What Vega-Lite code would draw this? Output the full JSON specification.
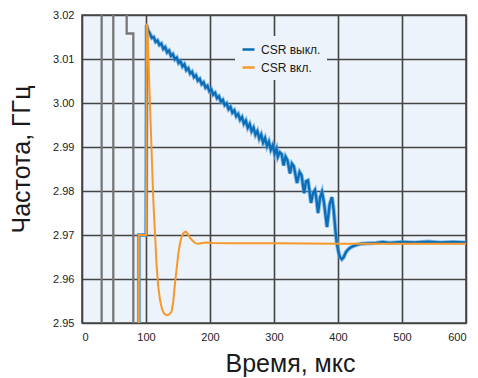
{
  "$schema": "https://vega.github.io/schema/vega-lite/v6.json",
  "width": 384,
  "height": 308,
  "autosize": {"type": "none"},
  "padding": {"left": 82, "top": 15, "right": 12, "bottom": 55},
  "background": "white",
  "config": {
    "font": "Liberation Sans",
    "view": {"fill": "#edf3fb", "stroke": "#4a4a4a", "strokeWidth": 1.6},
    "axis": {
      "grid": true,
      "gridColor": "#444444",
      "gridWidth": 1.6,
      "ticks": false,
      "domain": false,
      "labelFontSize": 11,
      "labelColor": "#222222",
      "labelPadding": 8,
      "titleFontSize": 25,
      "titleFontWeight": "normal",
      "titleColor": "#1a1a1a"
    }
  },
  "datasets": {
    "gray": [
      {"g": "a", "t": 30.7, "f": 2.94},
      {"g": "a", "t": 30.7, "f": 3.03},
      {"g": "a", "t": 48.9, "f": 3.03},
      {"g": "a", "t": 48.9, "f": 2.94},
      {"g": "b", "t": 69.8, "f": 3.03},
      {"g": "b", "t": 69.8, "f": 3.0158},
      {"g": "b", "t": 80.2, "f": 3.0158},
      {"g": "b", "t": 80.2, "f": 2.94}
    ],
    "blue": [
      {"t": 89, "f": 2.94}, {"t": 89, "f": 2.97}, {"t": 100, "f": 2.97},
      {"t": 101, "f": 3.0177}, {"t": 103, "f": 3.0166}, {"t": 106, "f": 3.0158},
      {"t": 109, "f": 3.0148}, {"t": 112, "f": 3.015}, {"t": 115, "f": 3.0139},
      {"t": 118, "f": 3.0142}, {"t": 121, "f": 3.0132}, {"t": 124, "f": 3.0135},
      {"t": 127, "f": 3.0123}, {"t": 130, "f": 3.0127}, {"t": 133, "f": 3.0115},
      {"t": 136, "f": 3.0119}, {"t": 139, "f": 3.0107}, {"t": 142, "f": 3.0111},
      {"t": 145, "f": 3.0099}, {"t": 148, "f": 3.0103}, {"t": 151, "f": 3.0091},
      {"t": 154, "f": 3.0095}, {"t": 157, "f": 3.0083}, {"t": 160, "f": 3.0088},
      {"t": 163, "f": 3.0075}, {"t": 166, "f": 3.0079}, {"t": 169, "f": 3.0067},
      {"t": 172, "f": 3.0071}, {"t": 175, "f": 3.0059}, {"t": 178, "f": 3.0063},
      {"t": 181, "f": 3.0051}, {"t": 184, "f": 3.0055}, {"t": 187, "f": 3.0043},
      {"t": 190, "f": 3.0047}, {"t": 193, "f": 3.0035}, {"t": 196, "f": 3.0039},
      {"t": 199, "f": 3.0027}, {"t": 202, "f": 3.0031}, {"t": 205, "f": 3.0019},
      {"t": 208, "f": 3.0023}, {"t": 211, "f": 3.0011}, {"t": 214, "f": 3.0015},
      {"t": 217, "f": 3.0003}, {"t": 220, "f": 3.0007}, {"t": 223, "f": 2.9995},
      {"t": 226, "f": 2.9999}, {"t": 229, "f": 2.9986}, {"t": 232, "f": 2.9991},
      {"t": 235, "f": 2.9978}, {"t": 238, "f": 2.9983}, {"t": 241, "f": 2.997},
      {"t": 244, "f": 2.9975}, {"t": 247, "f": 2.9962}, {"t": 250, "f": 2.9968},
      {"t": 253, "f": 2.9953}, {"t": 256, "f": 2.996}, {"t": 259, "f": 2.9944},
      {"t": 262, "f": 2.9952}, {"t": 265, "f": 2.9936}, {"t": 268, "f": 2.9944},
      {"t": 271, "f": 2.9928}, {"t": 274, "f": 2.9936}, {"t": 277, "f": 2.9919},
      {"t": 280, "f": 2.9928}, {"t": 283, "f": 2.991}, {"t": 286, "f": 2.992},
      {"t": 289, "f": 2.9902}, {"t": 292, "f": 2.9912}, {"t": 295, "f": 2.9894},
      {"t": 298, "f": 2.9904}, {"t": 301, "f": 2.9885}, {"t": 304, "f": 2.9896},
      {"t": 306, "f": 2.9878}, {"t": 309, "f": 2.9888}, {"t": 312, "f": 2.9884},
      {"t": 315, "f": 2.9858}, {"t": 318, "f": 2.9878}, {"t": 321, "f": 2.987},
      {"t": 325, "f": 2.984}, {"t": 328, "f": 2.9862}, {"t": 331, "f": 2.9856},
      {"t": 336, "f": 2.9818}, {"t": 340, "f": 2.9843}, {"t": 343, "f": 2.9836},
      {"t": 347, "f": 2.9795}, {"t": 350, "f": 2.9822}, {"t": 353, "f": 2.9824},
      {"t": 355, "f": 2.9805}, {"t": 357.8, "f": 2.9773}, {"t": 361, "f": 2.9795},
      {"t": 364, "f": 2.9802}, {"t": 366, "f": 2.9785}, {"t": 368.8, "f": 2.975},
      {"t": 372, "f": 2.9785}, {"t": 375, "f": 2.9798}, {"t": 378, "f": 2.9775},
      {"t": 382.8, "f": 2.9718}, {"t": 387, "f": 2.977}, {"t": 390.6, "f": 2.9786},
      {"t": 393, "f": 2.976}, {"t": 396, "f": 2.971}, {"t": 398, "f": 2.9682},
      {"t": 401, "f": 2.966}, {"t": 403, "f": 2.965}, {"t": 406, "f": 2.9645},
      {"t": 409, "f": 2.965}, {"t": 412, "f": 2.966}, {"t": 415, "f": 2.9666},
      {"t": 419, "f": 2.9671}, {"t": 424, "f": 2.9675}, {"t": 430, "f": 2.9678},
      {"t": 436, "f": 2.968}, {"t": 445, "f": 2.9681}, {"t": 460, "f": 2.9682},
      {"t": 470, "f": 2.9684}, {"t": 480, "f": 2.9682}, {"t": 500, "f": 2.9684},
      {"t": 520, "f": 2.9683}, {"t": 540, "f": 2.9685}, {"t": 560, "f": 2.9683},
      {"t": 580, "f": 2.9684}, {"t": 600, "f": 2.9683}
    ],
    "orange": [
      {"t": 89, "f": 2.94}, {"t": 89, "f": 2.97}, {"t": 100, "f": 2.97},
      {"t": 101, "f": 3.018}, {"t": 102, "f": 3.0176}, {"t": 106, "f": 3.0005},
      {"t": 111.4, "f": 2.978}, {"t": 114, "f": 2.9705}, {"t": 116.7, "f": 2.9628},
      {"t": 119, "f": 2.9585}, {"t": 121.9, "f": 2.9552}, {"t": 125, "f": 2.9532},
      {"t": 128, "f": 2.9522}, {"t": 132, "f": 2.9518}, {"t": 136, "f": 2.9519},
      {"t": 140, "f": 2.9526}, {"t": 142.5, "f": 2.9548}, {"t": 145.3, "f": 2.959},
      {"t": 148, "f": 2.9625}, {"t": 150.5, "f": 2.9658}, {"t": 153, "f": 2.968},
      {"t": 155.7, "f": 2.9696}, {"t": 159, "f": 2.9705}, {"t": 162, "f": 2.9708},
      {"t": 165, "f": 2.9703}, {"t": 168, "f": 2.9695}, {"t": 171.4, "f": 2.9689},
      {"t": 175, "f": 2.9684}, {"t": 178, "f": 2.9681}, {"t": 181.8, "f": 2.968},
      {"t": 188, "f": 2.9682}, {"t": 194.8, "f": 2.9683}, {"t": 205, "f": 2.9682},
      {"t": 230, "f": 2.9681}, {"t": 300, "f": 2.9681}, {"t": 400, "f": 2.968},
      {"t": 500, "f": 2.968}, {"t": 600, "f": 2.968}
    ]
  },
  "encoding": {
    "x": {
      "field": "t",
      "type": "quantitative",
      "scale": {"domain": [0, 600], "nice": false},
      "axis": {
        "values": [0, 100, 200, 300, 400, 500, 600],
        "title": "Время, мкс",
        "titleX": 208,
        "titleY": 48,
        "titleAlign": "center",
        "titleBaseline": "alphabetic"
      }
    },
    "y": {
      "field": "f",
      "type": "quantitative",
      "scale": {"domain": [2.95, 3.02], "nice": false, "zero": false},
      "axis": {
        "values": [2.95, 2.96, 2.97, 2.98, 2.99, 3.0, 3.01, 3.02],
        "format": ".2f",
        "title": "Частота, ГГц",
        "titleX": -53,
        "titleY": 144,
        "titleAngle": -90,
        "titleAlign": "center",
        "titleBaseline": "alphabetic"
      }
    },
    "order": {"value": null}
  },
  "layer": [
    {
      "data": {"name": "gray"},
      "mark": {"type": "line", "color": "#777777", "strokeWidth": 2.3, "clip": true},
      "encoding": {"detail": {"field": "g"}}
    },
    {
      "data": {"name": "blue"},
      "mark": {"type": "line", "color": "#5fa6dc", "strokeWidth": 4.2, "opacity": 0.7, "clip": true},
      "encoding": {}
    },
    {
      "data": {"name": "blue"},
      "mark": {"type": "line", "strokeWidth": 2.4, "clip": true},
      "encoding": {
        "color": {
          "datum": "CSR выкл.",
          "scale": {"domain": ["CSR выкл.", "CSR вкл."], "range": ["#0b6db7", "#f7982a"]},
          "legend": {
            "orient": "none",
            "legendX": 153,
            "legendY": 21,
            "title": null,
            "fillColor": "#edf3fb",
            "padding": 6,
            "symbolType": "stroke",
            "symbolSize": 144,
            "symbolStrokeWidth": 2.5,
            "labelFontSize": 12,
            "labelColor": "#1a1a1a",
            "labelOffset": 5,
            "rowPadding": 4
          }
        }
      }
    },
    {
      "data": {"name": "orange"},
      "mark": {"type": "line", "strokeWidth": 2, "clip": true},
      "encoding": {"color": {"datum": "CSR вкл."}}
    }
  ]
}
